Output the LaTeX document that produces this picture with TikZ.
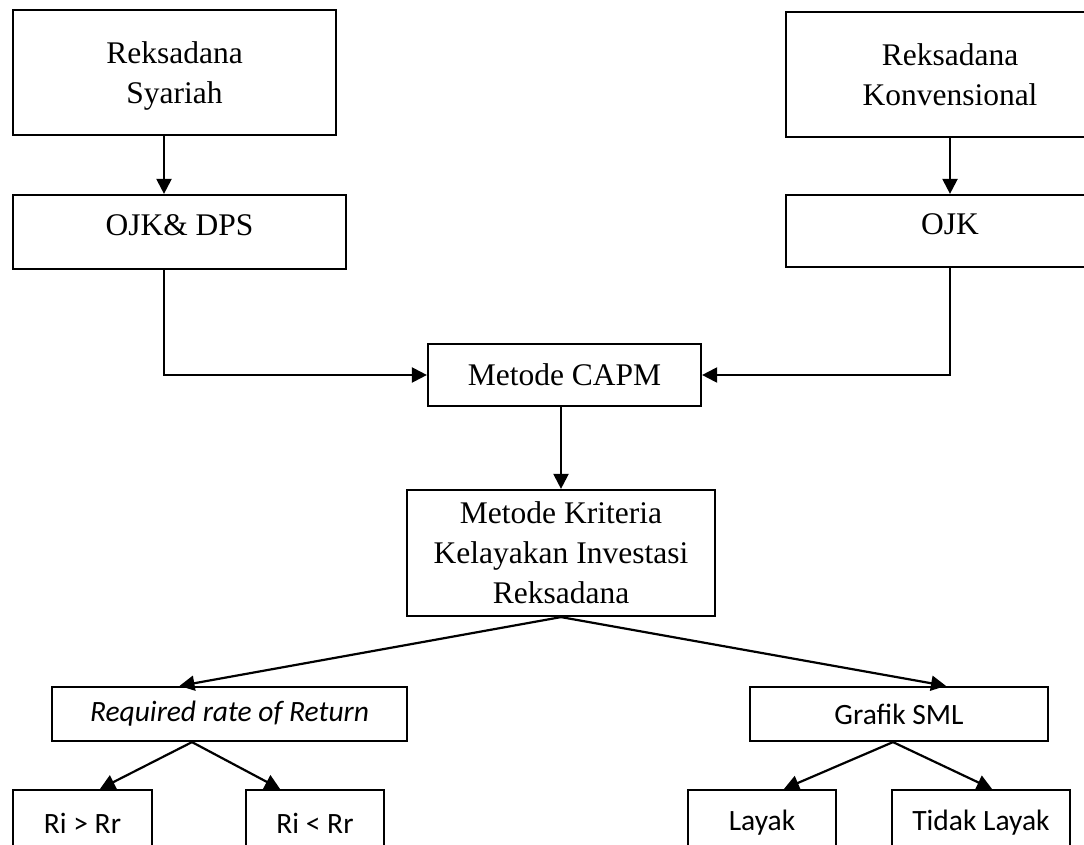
\documentclass[tikz,border=0pt]{standalone}
\usepackage{fontspec}
\setmainfont{Liberation Serif}
\setsansfont{Carlito}
\usepackage{tikz}
\usetikzlibrary{arrows.meta}

\begin{document}
\begin{tikzpicture}[x=1pt, y=-1pt,
    kotak/.style={draw, line width=2.2pt, inner sep=0pt, align=center},
    teks/.style={font=\fontsize{31.5}{40}\selectfont},
    teksb/.style={font=\sffamily\fontsize{29.5}{35}\selectfont},
    panah/.style={line width=2.2pt, -{Triangle[length=15pt, width=15pt]}}]

\useasboundingbox (0, 0) rectangle (1084, 845);
\clip (0, 0) rectangle (1084, 845);

\coordinate (kiri) at (164, 0);

\node[kotak, teks, minimum width=323pt, minimum height=125pt, text height=62pt, text depth=0pt] (syariah) at (174.5, 72.5) {Reksadana\\Syariah};
\node[kotak, teks, minimum width=328pt, minimum height=125pt, text height=62pt, text depth=0pt] (konven) at (950, 74.5) {Reksadana\\Konvensional};
\node[kotak, teks, minimum width=333pt, minimum height=74pt, text depth=14pt] (ojkdps) at (179.5, 232) {OJK\& DPS};
\node[kotak, teks, minimum width=328pt, minimum height=72pt, text depth=14pt] (ojk) at (950, 231) {OJK};
\node[kotak, teks, minimum width=273pt, minimum height=62pt] (capm) at (564.5, 375) {Metode CAPM};
\node[kotak, teks, minimum width=308pt, minimum height=126pt] (kriteria) at (561, 553) {Metode Kriteria\\Kelayakan Investasi\\Reksadana};

\node[kotak, teksb, minimum width=355pt, minimum height=54pt] (rrr) at (229.5, 714) {\itshape Required rate of Return};
\node[kotak, teksb, minimum width=298pt, minimum height=54pt] (sml) at (899, 714) {Grafik SML};
\node[kotak, teksb, minimum width=139pt, minimum height=66pt] (lebih) at (82.5, 823) {Ri > Rr};
\node[kotak, teksb, minimum width=138pt, minimum height=66pt] (kurang) at (315, 823) {Ri < Rr};
\node[kotak, teksb, minimum width=148pt, minimum height=66pt] (layak) at (762, 823) {Layak};
\node[kotak, teksb, minimum width=178pt, minimum height=66pt] (tidak) at (981, 823) {Tidak Layak};

\draw[panah] (syariah.south -| kiri) -- (ojkdps.north -| kiri);
\draw[panah] (konven.south) -- (ojk.north);
\draw[panah] (ojkdps.south -| kiri) |- (capm.west);
\draw[panah] (ojk.south) |- (capm.east);
\draw[panah] (capm.south -| kriteria.north) -- (kriteria.north);

\draw[panah] (kriteria.south) -- ([xshift=-50pt]rrr.north);
\draw[panah] (kriteria.south) -- ([xshift=47pt]sml.north);

\draw[panah] ([xshift=-37.5pt]rrr.south) -- ([xshift=17.5pt]lebih.north);
\draw[panah] ([xshift=-37.5pt]rrr.south) -- ([xshift=-35pt]kurang.north);
\draw[panah] ([xshift=-6pt]sml.south) -- ([xshift=22pt]layak.north);
\draw[panah] ([xshift=-6pt]sml.south) -- ([xshift=11pt]tidak.north);
\end{tikzpicture}
\end{document}
